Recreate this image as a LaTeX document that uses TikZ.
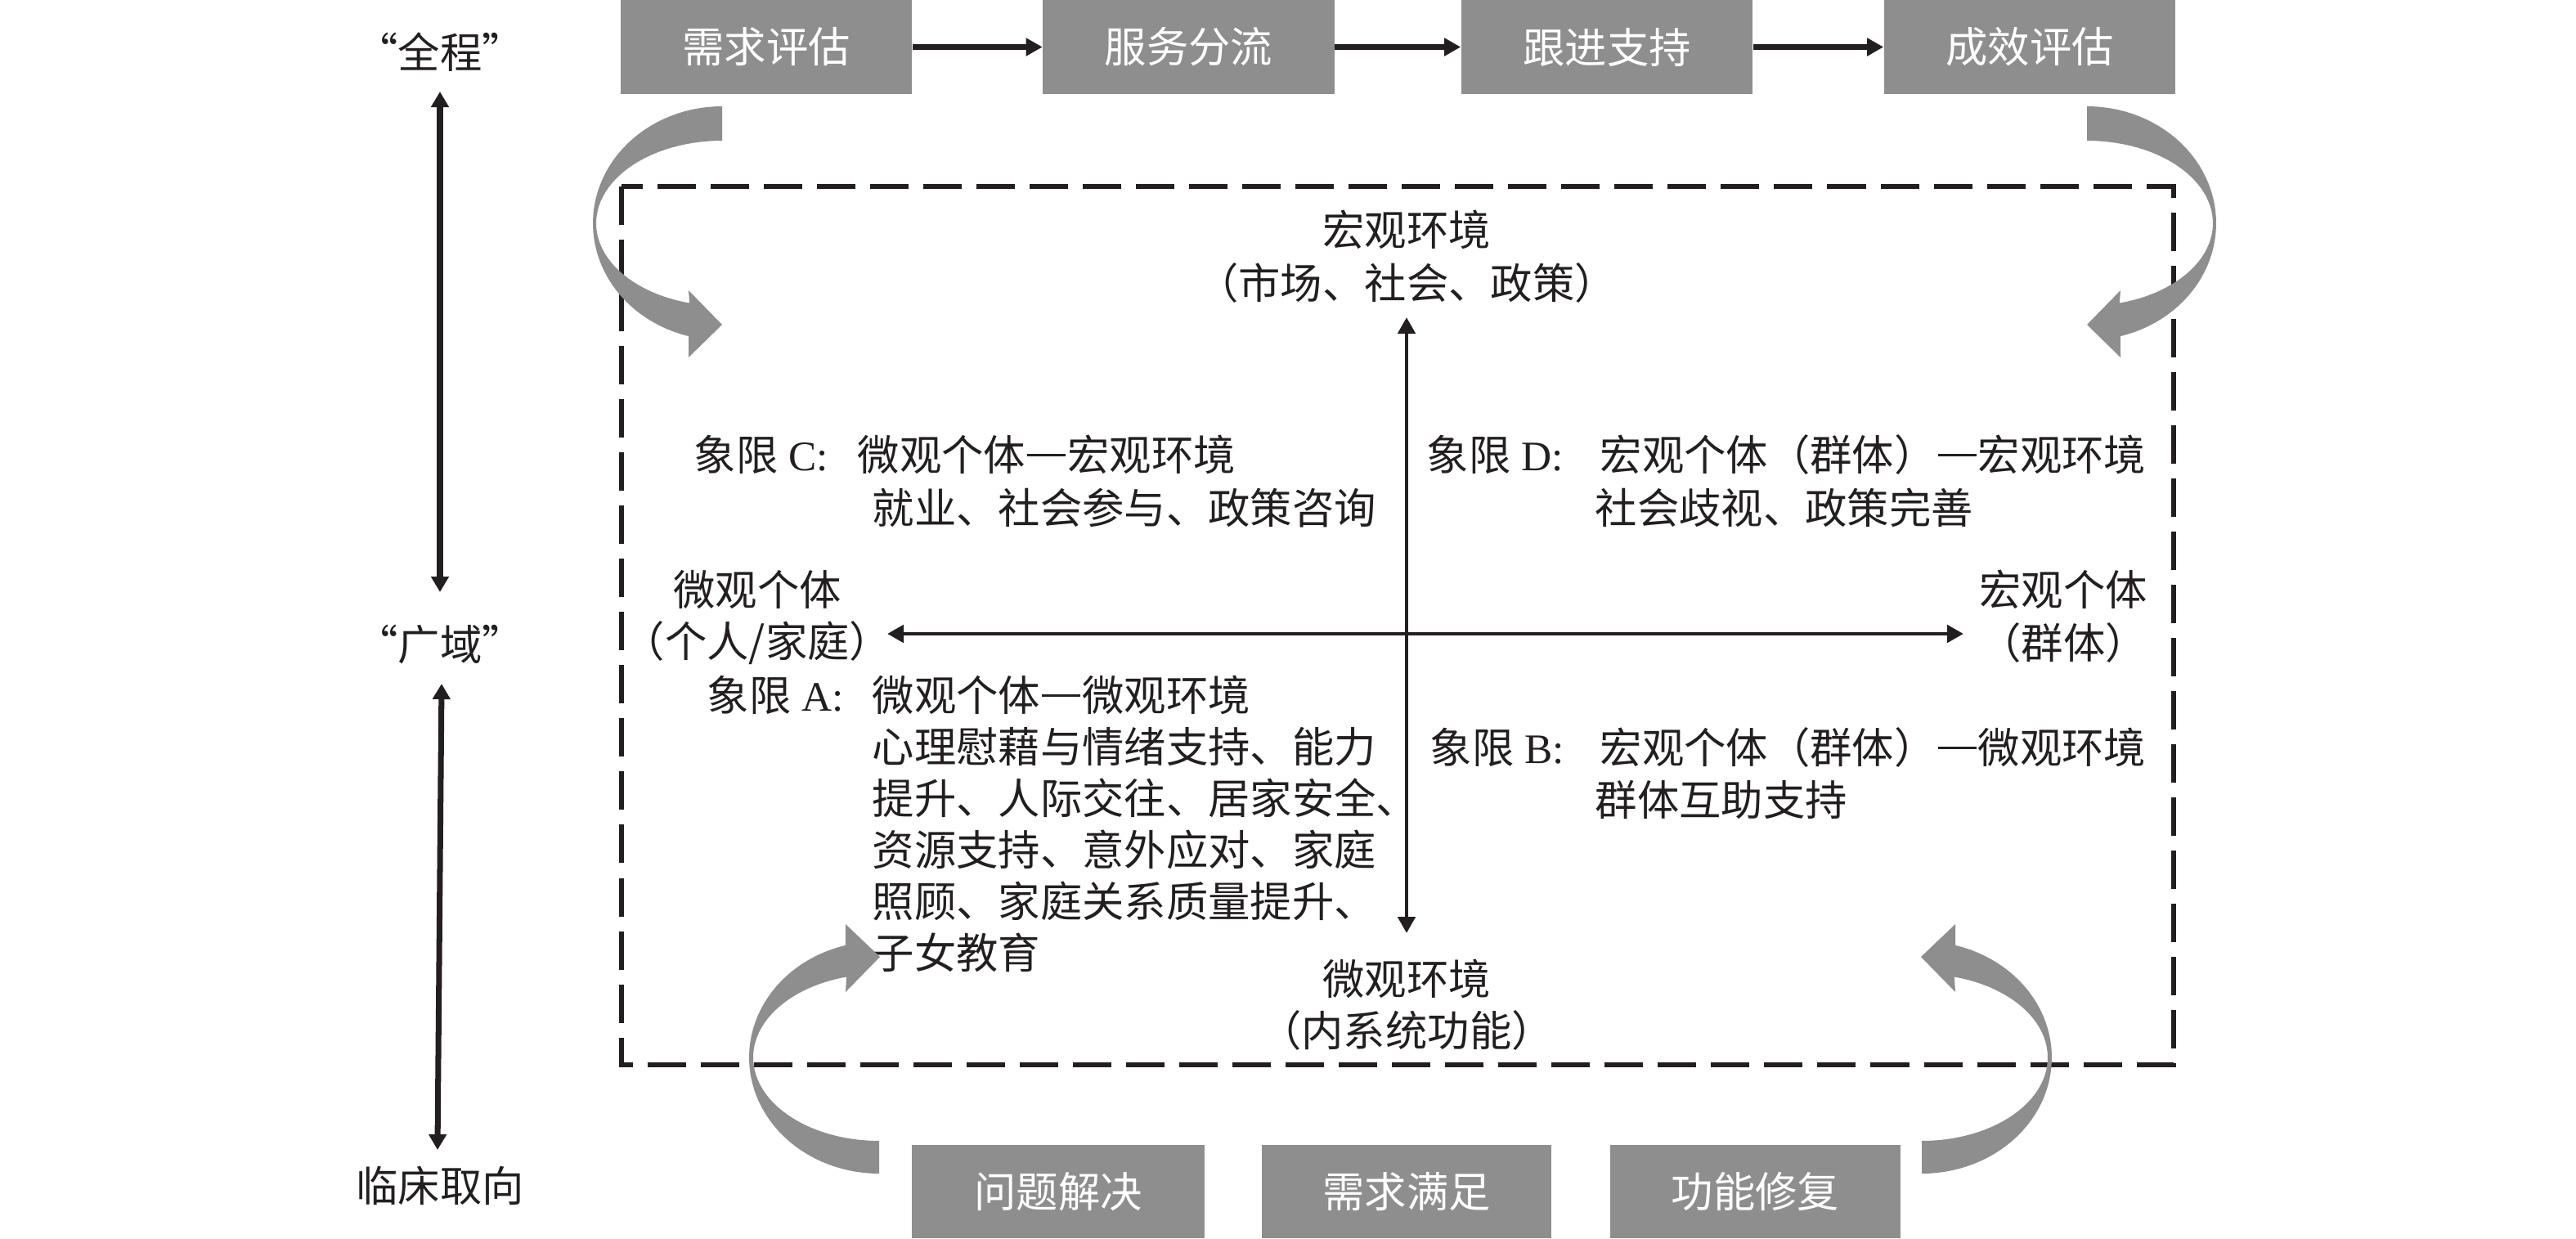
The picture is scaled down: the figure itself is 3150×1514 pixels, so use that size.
\documentclass[tikz,border=0pt]{standalone}
\usepackage{fontspec}
\setmainfont{Noto Sans CJK SC}
\newfontfamily\lat{Liberation Serif}
\usetikzlibrary{arrows.meta}
\definecolor{boxgray}{RGB}{143,142,143}
\definecolor{ink}{RGB}{35,31,32}
\newcommand\cjkdash{\makebox[1em]{\rule[0.34em]{0.92em}{0.055em}}}
\begin{document}
\begin{tikzpicture}[x=0.01cm,y=-0.01cm,
  font=\fontsize{14.6}{17.6}\selectfont,
  txt/.style={inner sep=0pt, text=ink},
  ltxt/.style={txt, anchor=west},
  topbox/.style={fill=boxgray, text=white, inner sep=0pt, minimum width=3.56cm, minimum height=1.15cm},
  botbox/.style={fill=boxgray, text=white, inner sep=0pt, minimum width=3.56cm, minimum height=1.14cm},
  flowarr/.style={draw=ink, line width=2pt, -{Triangle[length=0.2cm,width=0.21cm]}},
  dblarr/.style={draw=ink, line width=2pt, {Triangle[length=0.19cm,width=0.21cm]}-{Triangle[length=0.19cm,width=0.21cm]}},
  axisarr/.style={draw=ink, line width=1.4pt, {Triangle[length=0.2cm,width=0.21cm]}-{Triangle[length=0.2cm,width=0.21cm]}},
  frame/.style={draw=ink, line width=1.6pt, dash pattern=on 0.47cm off 0.18cm}
]
\useasboundingbox (0,0) rectangle (3150,1514);

% dashed frame
\draw[frame] (760,228) rectangle (2658,1302);

% top process boxes
\node[topbox] (b1) at (937,57.5) {需求评估};
\node[topbox] (b2) at (1453.5,57.5) {服务分流};
\node[topbox] (b3) at (1965,57.5) {跟进支持};
\node[topbox] (b4) at (2482,57.5) {成效评估};
\draw[flowarr] (b1) -- (b2);
\draw[flowarr] (b2) -- (b3);
\draw[flowarr] (b3) -- (b4);

% bottom boxes
\node[botbox, minimum width=3.58cm] (c1) at (1294,1457) {问题解决};
\node[botbox, minimum width=3.54cm] (c2) at (1720,1457) {需求满足};
\node[botbox, minimum width=3.55cm] (c3) at (2146.5,1457) {功能修复};

% left labels and arrows
\node[txt] (quan) at (538,64) {“全程”};
\node[txt] (guang) at (538,788) {“广域”};
\node[txt] (linc) at (538,1450) {临床取向};
\coordinate (l1a) at (538,112);
\coordinate (l1b) at (538,724);
\coordinate (l2a) at (540,836);
\coordinate (l2b) at (535,1406);
\draw[dblarr] (l1a) -- (l1b);
\draw[dblarr] (l2a) -- (l2b);

% axes
\coordinate (vtop) at (1720,388);
\coordinate (vbot) at (1720,1141);
\coordinate (hleft) at (1085,775);
\coordinate (hright) at (2401,775);
\draw[axisarr] (vtop) -- (vbot);
\draw[axisarr] (hleft) -- (hright);

% axis labels
\node[txt] (hgenv) at (1720,281) {宏观环境};
\node[txt] (hgenv2) at (1720,346) {（市场、社会、政策）};
\node[txt] (wgenv) at (1720,1197) {微观环境};
\node[txt] (wgenv2) at (1720,1260) {（内系统功能）};
\node[txt] (wgind) at (926,721) {微观个体};
\node[txt] (wgind2) at (926,786) {（个人/家庭）};
\node[txt] (hgind) at (2523,721) {宏观个体};
\node[txt] (hgind2) at (2523,786) {（群体）};

% quadrant C
\node[ltxt] (qcL) at (848,556) {象限\lat{ C:}};
\node[ltxt] (qc1) at (1048,556) {微观个体\cjkdash 宏观环境};
\node[ltxt] (qc2) at (1066,621) {就业、社会参与、政策咨询};
% quadrant D
\node[ltxt] (qdL) at (1744,556) {象限\lat{ D:}};
\node[ltxt] (qd1) at (1956,556) {宏观个体（群体）\cjkdash 宏观环境};
\node[ltxt] (qd2) at (1950,621) {社会歧视、政策完善};
% quadrant A
\node[ltxt] (qaL) at (864,850) {象限\lat{ A:}};
\node[ltxt] (qa1) at (1066,850) {微观个体\cjkdash 微观环境};
\node[ltxt] (qa2) at (1066,913) {心理慰藉与情绪支持、能力};
\node[ltxt] (qa3) at (1066,976) {提升、人际交往、居家安全、};
\node[ltxt] (qa4) at (1066,1039) {资源支持、意外应对、家庭};
\node[ltxt] (qa5) at (1066,1102) {照顾、家庭关系质量提升、};
\node[ltxt] (qa6) at (1066,1165) {子女教育};
% quadrant B
\node[ltxt] (qbL) at (1748,914) {象限\lat{ B:}};
\node[ltxt] (qb1) at (1956,914) {宏观个体（群体）\cjkdash 微观环境};
\node[ltxt] (qb2) at (1950,978) {群体互助支持};

% curved arrows
\fill[boxgray] plot[domain=90:255,samples=50] ({883+158*cos(\x)},{273-143*sin(\x)})
  -- (842,437) -- (883,397) -- (842,355)
  -- plot[domain=255:90,samples=50] ({883+154*cos(\x)},{273-101*sin(\x)}) -- cycle;
\fill[boxgray] plot[domain=90:255,samples=50] ({2552-158*cos(\x)},{273-143*sin(\x)})
  -- (2593,437) -- (2552,397) -- (2593,355)
  -- plot[domain=255:90,samples=50] ({2552-154*cos(\x)},{273-101*sin(\x)}) -- cycle;
\fill[boxgray] plot[domain=270:105,samples=50] ({1075+159*cos(\x)},{1293-142*sin(\x)})
  -- (1034,1130) -- (1076,1170) -- (1034,1213)
  -- plot[domain=105:270,samples=50] ({1075+154*cos(\x)},{1293-102*sin(\x)}) -- cycle;
\fill[boxgray] plot[domain=270:105,samples=50] ({2350-159*cos(\x)},{1293-142*sin(\x)})
  -- (2391,1130) -- (2349,1170) -- (2391,1213)
  -- plot[domain=105:270,samples=50] ({2350-154*cos(\x)},{1293-102*sin(\x)}) -- cycle;
\end{tikzpicture}
\end{document}
